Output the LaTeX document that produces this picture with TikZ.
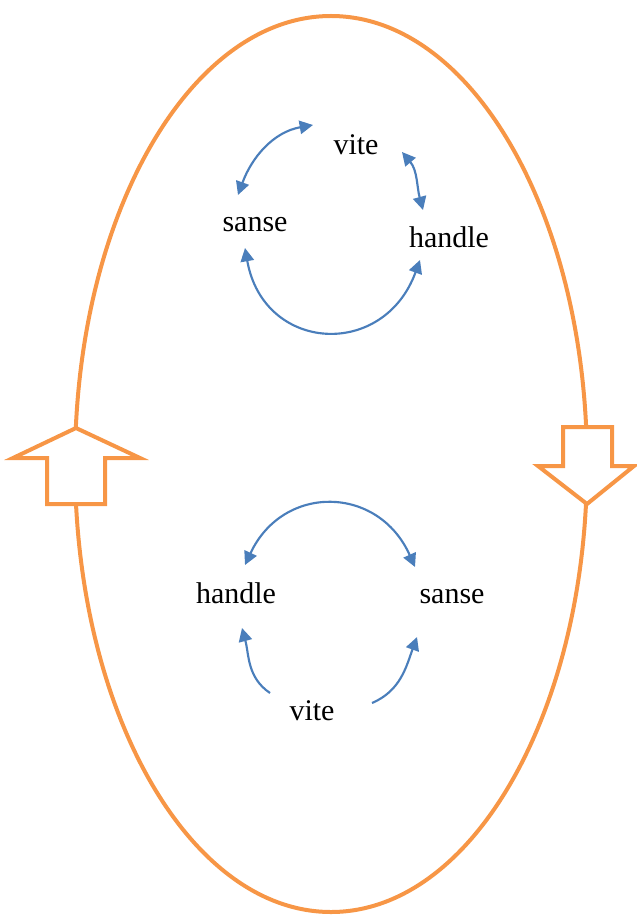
\documentclass[tikz,border=0pt]{standalone}
\usepackage{fontspec}
\setmainfont{Liberation Serif}
\usetikzlibrary{positioning,arrows.meta}
\definecolor{cycblue}{RGB}{74,126,187}
\definecolor{looporange}{RGB}{247,150,70}

\begin{document}
\begin{tikzpicture}[
  x=0.75pt,y=0.75pt,
  >={Triangle[length=10pt,width=10pt]},
  word/.style={anchor=base,inner sep=0pt,font=\fontsize{22.5}{27}\selectfont},
  link/.style={draw=cycblue,line width=1.6pt},
  loop/.style={draw=looporange,line width=3pt},
  blockarrow/.style={loop,fill=white,line join=miter}
]
\useasboundingbox (0,0) rectangle (636,-916);
% outer loop with the two block arrows
\draw[loop] (331,-464) ellipse [x radius=256,y radius=448];
\draw[blockarrow] (76,-428) -- (140,-458) -- (105,-458) -- (105,-504)
  -- (47,-504) -- (47,-458) -- (13,-458) -- cycle;
\draw[blockarrow] (563,-427) -- (612,-427) -- (612,-466) -- (634,-466)
  -- (587,-504) -- (538,-466) -- (563,-466) -- cycle;
% upper cycle
\node[word] (vite1) at (356,-155) {vite};
\node[word] (sanse1) at (255,-232) {sanse};
\node[word] (handle1) at (449,-247) {handle};
\draw[link,<->] ([shift={(-17,37)}]sanse1.base) to[out=70,in=190] ([shift={(-43,30)}]vite1.base);
\draw[link,<->] ([shift={(46,3)}]vite1.base) to[out=-50,in=105] ([shift={(-26,37)}]handle1.base);
\draw[link,<->] ([shift={(-10,-16)}]sanse1.base) to[out=-80,in=250,looseness=1.55] ([shift={(-29,-13)}]handle1.base);
% lower cycle
\node[word] (handle2) at (236,-603) {handle};
\node[word] (sanse2) at (452,-603) {sanse};
\node[word] (vite2) at (312,-720) {vite};
\draw[link,<->] ([shift={(9,38)}]handle2.base) to[out=65,in=114,looseness=1.35] ([shift={(-37,36)}]sanse2.base);
\draw[link,->] ([shift={(-42,27)}]vite2.base) to[out=146,in=285] ([shift={(6,-25)}]handle2.base);
\draw[link,->] ([shift={(60,17)}]vite2.base) to[out=23,in=250] ([shift={(-35,-34)}]sanse2.base);
\end{tikzpicture}
\end{document}
